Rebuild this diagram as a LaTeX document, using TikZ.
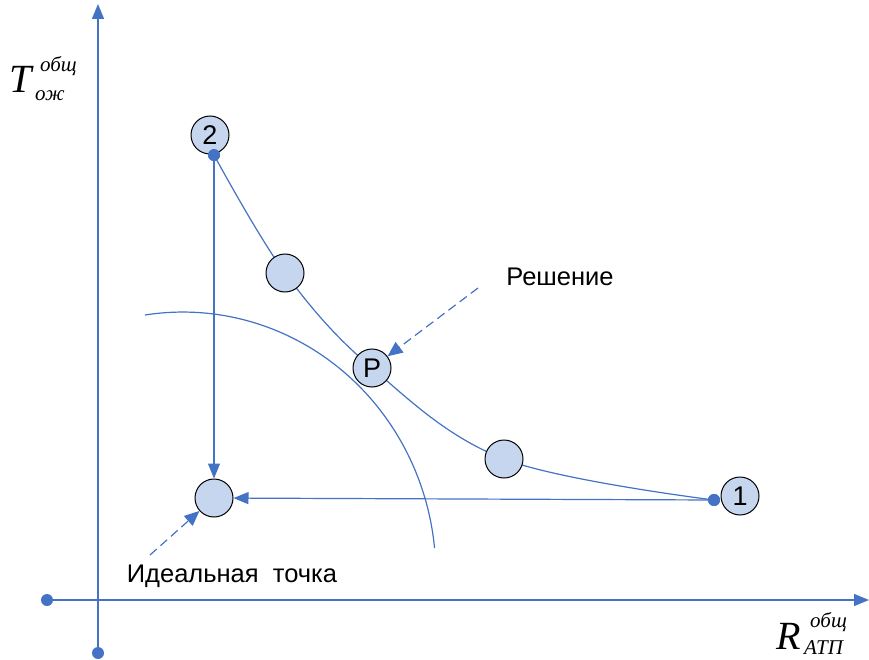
\documentclass[tikz,border=0pt]{standalone}
\usepackage{fontspec}
\setmainfont{Liberation Sans}
\newfontfamily\serifit{Liberation Serif}[ItalicFont={Liberation Serif Italic}]
\usetikzlibrary{arrows.meta}
\definecolor{lineblue}{HTML}{4472C4}
\definecolor{nodefill}{HTML}{C5D6EE}
\tikzset{
  axis/.style={draw=lineblue, line width=1.4pt},
  link/.style={draw=lineblue, line width=1.2pt},
  tip/.style={-{Triangle[length=15pt,width=12pt]}},
  hint/.style={draw=lineblue, line width=1.2pt, dash pattern=on 9pt off 5pt, -{Triangle[length=15pt,width=13pt]}},
  pt/.style={circle, fill=lineblue, inner sep=0pt, minimum size=12pt},
  crit/.style={circle, draw=black, line width=1pt, fill=nodefill, minimum size=38pt, inner sep=0pt, font=\fontsize{27}{30}\selectfont},
  lbl/.style={font=\fontsize{25.5}{28}\selectfont, inner sep=0pt},
  big/.style={inner sep=0pt, anchor=base west, font=\serifit\itshape\fontsize{40}{42}\selectfont},
  small/.style={inner sep=0pt, anchor=base west, font=\serifit\itshape\fontsize{21}{23}\selectfont},
}
\begin{document}
\begin{tikzpicture}[x=1pt,y=-1pt]
\useasboundingbox (0,0) rectangle (869,660);

% axes
\node[pt] (ox) at (47,600) {};
\node[pt] (oy) at (98,653) {};
\coordinate (xend) at (869,600);
\coordinate (yend) at (98,4);
\draw[axis, tip] (ox) -- (xend);
\draw[axis, tip] (oy) -- (yend);

% axis labels
\node[big] (tlab) at (9,93) {T};
\node[small] (tsup) at (40,72) {общ};
\node[small] (tsub) at (35,101) {ож};
\node[big] (rlab) at (776,649) {R};
\node[small] (rsup) at (810,627) {общ};
\node[small] (rsub) at (804,654) {АТП};

% compromise curve and the bounding arc
\node[pt] (s2) at (214,155) {};
\node[pt] (s1) at (714,500) {};
\draw[link] plot[smooth, tension=0.6] coordinates {(214,155) (285,273) (372,368) (504,459) (714,500)};
\draw[link] (145,315) arc[start angle=-98.6, end angle=-5.7, x radius=253, y radius=262];

% points
\node[crit] (n2) at (210,135) {2};
\node[crit] (a) at (285,273) {};
\node[crit] (p) at (372,368) {P};
\node[crit] (b) at (504,459) {};
\node[crit] (n1) at (740,496) {1};
\node[crit] (ideal) at (214,498) {};
\node[pt] at (s2) {};
\node[pt] at (s1) {};

% projections onto the ideal point
\draw[link, tip] (s2) -- (ideal);
\draw[link, tip] (s1) -- (ideal);

% captions with pointers
\node[lbl] (sol) at (560,277) {Решение};
\coordinate (solfrom) at (478,288);
\draw[hint] (solfrom) -- (p);
\node[lbl] (idl) at (232,576) {Идеальная\ \ точка};
\coordinate (idlfrom) at (150,555);
\draw[hint] (idlfrom) -- (ideal);
\end{tikzpicture}
\end{document}
